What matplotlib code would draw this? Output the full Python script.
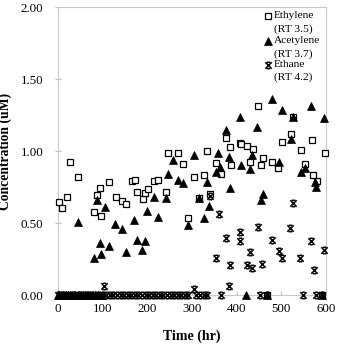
import matplotlib
matplotlib.use("Agg")
import matplotlib.pyplot as plt
from matplotlib.path import Path

plt.rcParams['font.family'] = ['Liberation Serif', 'DejaVu Serif']

# ---- data (time in hr, concentration in uM) ----
eth_t = [2.7, 8.5, 20.6, 26.5, 45.3, 79.6, 87.8, 93.8, 96.8, 114, 129.7, 143, 152, 165.5, 171.5,
         176.8, 189.5, 194.7, 200.7, 214, 224, 241.8, 246, 269.5, 280.7, 291, 303.5, 315.7, 327.8,
         333.7, 339.7, 353, 364.3, 377, 384.5, 387.5, 407, 410, 423.3, 429, 436.8, 447.3, 454.8,
         459, 480, 493.6, 502.6, 520.6, 526.5, 544.4, 553.4, 568.4, 571, 579, 597, 468, 592]
eth_v = [0.648, 0.606, 0.678, 0.926, 0.817, 0.574, 0.694, 0.743, 0.546, 0.782, 0.678, 0.653, 0.630,
         0.792, 0.796, 0.715, 0.664, 0.706, 0.736, 0.792, 0.796, 0.715, 0.988, 0.988, 0.912, 0.532,
         0.818, 0.676, 0.833, 1.002, 0.701, 0.914, 0.840, 1.088, 1.030, 0.903, 1.053, 1.046, 1.035,
         0.921, 1.014, 1.315, 0.903, 0.949, 0.924, 0.880, 1.065, 1.116, 1.234, 1.005, 0.907, 1.074,
         0.833, 0.792, 0.984, 0.0, 0.0]

ace_t = [44.5, 79.6, 87.8, 93.8, 96.8, 105, 114, 128, 142.4, 151.3, 170, 176, 188, 195.5, 200, 214,
         223, 241.8, 246, 258, 269.5, 280, 291, 303.5, 315.7, 327.8, 333.7, 338.2, 354.7, 359, 363.6,
         377, 383, 386, 407, 410.7, 422, 429.4, 435.4, 445.8, 454.8, 459.3, 480, 493.7, 501, 520.6,
         526.5, 544.4, 552, 565.4, 574.4, 577.4, 595.3,
         0, 3, 7, 11, 15, 19, 23, 27, 31, 35, 39, 48, 52, 56, 60, 64, 68, 72, 76, 83, 90, 98, 468, 592]
ace_v = [0.509, 0.255, 0.660, 0.361, 0.287, 0.613, 0.340, 0.491, 0.458, 0.301, 0.523, 0.382, 0.312,
         0.377, 0.583, 0.681, 0.542, 0.671, 0.840, 0.938, 0.799, 0.780, 0.486, 0.972, 0.676, 0.537,
         0.782, 0.620, 0.856, 0.984, 0.891, 1.146, 0.958, 0.745, 1.238, 0.903, 0.0, 0.875, 0.972,
         1.167, 0.660, 0.704, 1.361, 0.921, 1.287, 1.083, 1.234, 0.856, 0.884, 1.315, 0.782, 0.752,
         1.231,
         0, 0, 0, 0, 0, 0, 0, 0, 0, 0, 0, 0, 0, 0, 0, 0, 0, 0, 0, 0, 0, 0, 0, 0]

etn_t = [104, 303.8, 339.5, 353, 360.6, 375.6, 383, 386, 407, 408.5, 423.3, 429.4, 435.4, 447.3,
         457.8, 480, 493.7, 501, 519, 526.5, 541.5, 566.8, 573, 595.3,
         0, 5, 12, 20, 28, 36, 44, 52, 60, 68, 76, 84, 92, 100, 108, 116, 124, 132, 140, 148, 156,
         164, 172, 180, 188, 196, 204, 212, 220, 228, 236, 244, 252, 260, 268, 276, 284, 292, 310,
         318, 326, 334, 364, 452, 468, 549, 577, 592]
etn_v = [0.065, 0.042, 0.690, 0.255, 0.565, 0.394, 0.065, 0.208, 0.377, 0.440, 0.208, 0.296, 0.185,
         0.475, 0.213, 0.382, 0.306, 0.259, 0.463, 0.639, 0.259, 0.377, 0.176, 0.313,
         0, 0, 0, 0, 0, 0, 0, 0, 0, 0, 0, 0, 0, 0, 0, 0, 0, 0, 0, 0, 0,
         0, 0, 0, 0, 0, 0, 0, 0, 0, 0, 0, 0, 0, 0, 0, 0, 0, 0,
         0, 0, 0, 0, 0, 0, 0, 0, 0]

x_ticks = [0, 100, 200, 300, 400, 500, 600]
y_ticks = [0.0, 0.5, 1.0, 1.5, 2.0]
y_tick_labels = ["0.00", "0.50", "1.00", "1.50", "2.00"]
legend_lines = ["Ethylene", "(RT 3.5)", "Acetylene", "(RT 3.7)", "Ethane", "(RT 4.2)"]

# star-like marker: X with caps
star = Path([(-1, -1), (1, 1), (-1, 1), (1, -1), (-0.55, 1), (0.55, 1), (-0.55, -1), (0.55, -1)],
            [Path.MOVETO, Path.LINETO, Path.MOVETO, Path.LINETO,
             Path.MOVETO, Path.LINETO, Path.MOVETO, Path.LINETO])

fig = plt.figure(figsize=(3.38, 3.45), dpi=100)
ax = fig.add_axes([58 / 338, 50 / 345, 268 / 338, 288 / 345])

ax.plot(eth_t, eth_v, linestyle='none', marker='s', ms=4.8, mfc='white', mec='black', mew=0.9,
        zorder=3, clip_on=False)
ax.plot(ace_t, ace_v, linestyle='none', marker='^', ms=5.2, mfc='black', mec='black', mew=0.5,
        zorder=4, clip_on=False)
ax.plot(etn_t, etn_v, linestyle='none', marker=star, ms=4.6, mfc='none', mec='black', mew=1.1,
        zorder=5, clip_on=False)

ax.set_xlim(0, 600)
ax.set_ylim(0, 2.0)
ax.set_xticks(x_ticks)
ax.set_yticks(y_ticks)
ax.set_yticklabels(y_tick_labels)
ax.tick_params(axis='x', direction='in', length=3, color='#c0c0c0', labelsize=9.3, pad=6)
ax.tick_params(axis='y', direction='inout', length=5, color='#c0c0c0', labelsize=9.3, pad=8)
for s in ax.spines.values():
    s.set_color('#c8c8c8')
    s.set_linewidth(0.8)

ax.set_xlabel("Time (hr)", fontsize=10, fontweight='bold', labelpad=10)
ax.set_ylabel("Concentration (uM)", fontsize=9.8, fontweight='bold')
ax.yaxis.set_label_coords(-0.17, 0.5)

# legend (manual)
ys = [0.969, 0.922, 0.882, 0.837, 0.800, 0.757]
for txt, yy in zip(legend_lines, ys):
    ax.text(0.806, yy, txt, transform=ax.transAxes, fontsize=8.2, va='center', ha='left')
ax.plot([0.783], [ys[0]], transform=ax.transAxes, marker='s', ms=4.8, mfc='white', mec='black',
        mew=0.9, clip_on=False)
ax.plot([0.783], [ys[2]], transform=ax.transAxes, marker='^', ms=5.2, mfc='black', mec='black',
        mew=0.5, clip_on=False)
ax.plot([0.783], [ys[4]], transform=ax.transAxes, marker=star, ms=4.6, mfc='none', mec='black',
        mew=1.1, clip_on=False)

fig.savefig("out.png", dpi=100)
